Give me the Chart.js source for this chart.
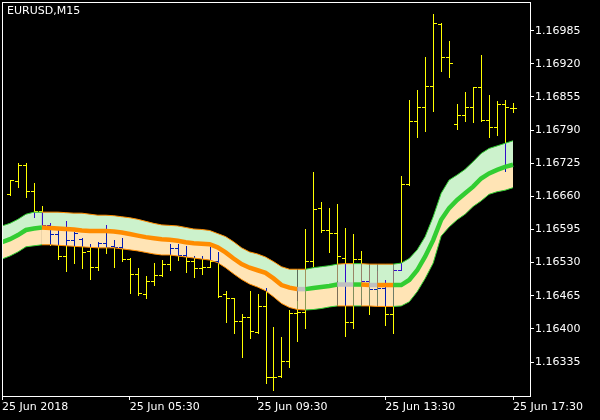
<!DOCTYPE html>
<html>
<head>
<meta charset="utf-8">
<script src="https://cdn.jsdelivr.net/npm/chart.js@4.4.1/dist/chart.umd.min.js"></script>
<style>
  html, body { margin: 0; padding: 0; background: #000; }
  #wrap { width: 600px; height: 420px; }
</style>
</head>
<body>
<div id="wrap"><canvas id="eurusdChart"></canvas></div>
<script>
// symbol / axis labels
const symbolTitle = 'EURUSD,M15';
const tickSlots = [0, 16, 32, 48, 64];
const tickLabels = ['25 Jun 2018', '25 Jun 05:30', '25 Jun 09:30', '25 Jun 13:30', '25 Jun 17:30'];
const priceTicks = [1.16335, 1.16400, 1.16465, 1.16530, 1.16595, 1.16660, 1.16725, 1.16790, 1.16855, 1.16920, 1.16985];

// M15 bars, slot 0 = 01:30 (hidden behind the frame)
const opens = [null,
  1.16665, 1.16691, 1.16721, 1.16670, 1.16632, 1.16604, 1.16586, 1.16542, 1.16574, 1.16576,
  1.16552, 1.16521, 1.16569, 1.16563, 1.16560, 1.16538, 1.16507, 1.16468, 1.16494, 1.16505,
  1.16527, 1.16558, 1.16545, 1.16534, 1.16519, 1.16522, 1.16533, 1.16468, 1.16460, 1.16415,
  1.16423, 1.16394, 1.16445, 1.16305, 1.16308, 1.16337, 1.16432, 1.16433, 1.16534, 1.16638,
  1.16593, 1.16588, 1.16540, 1.16413, 1.16537, 1.16493, 1.16478, 1.16480, 1.16429, 1.16516,
  1.16684, 1.16808, 1.16835, 1.16876, 1.16999, 1.16933, 1.16801, 1.16819, 1.16835, 1.16874,
  1.16810, 1.16797, 1.16841, 1.16834];
const highs = [null,
  1.16692, 1.16725, 1.16725, 1.16686, 1.16641, 1.16607, 1.16594, 1.16612, 1.16591, 1.16579,
  1.16567, 1.16570, 1.16604, 1.16574, 1.16578, 1.16539, 1.16519, 1.16504, 1.16529, 1.16535,
  1.16567, 1.16567, 1.16562, 1.16542, 1.16543, 1.16561, 1.16551, 1.16475, 1.16461, 1.16429,
  1.16475, 1.16468, 1.16481, 1.16404, 1.16385, 1.16437, 1.16455, 1.16596, 1.16707, 1.16649,
  1.16638, 1.16645, 1.16597, 1.16586, 1.16553, 1.16519, 1.16514, 1.16496, 1.16517, 1.16699,
  1.16849, 1.16869, 1.16933, 1.17018, 1.17001, 1.16965, 1.16841, 1.16865, 1.16874, 1.16937,
  1.16859, 1.16848, 1.16849, 1.16843];
const lows = [null,
  1.16663, 1.16679, 1.16659, 1.16620, 1.16601, 1.16565, 1.16538, 1.16514, 1.16530, 1.16519,
  1.16497, 1.16516, 1.16549, 1.16522, 1.16534, 1.16471, 1.16466, 1.16460, 1.16486, 1.16504,
  1.16515, 1.16535, 1.16512, 1.16501, 1.16508, 1.16521, 1.16463, 1.16414, 1.16391, 1.16345,
  1.16382, 1.16391, 1.16294, 1.16280, 1.16306, 1.16325, 1.16377, 1.16401, 1.16523, 1.16591,
  1.16551, 1.16495, 1.16386, 1.16401, 1.16460, 1.16429, 1.16453, 1.16408, 1.16391, 1.16515,
  1.16682, 1.16777, 1.16789, 1.16828, 1.16906, 1.16895, 1.16793, 1.16808, 1.16805, 1.16808,
  1.16777, 1.16780, 1.16710, 1.16826];
const closes = [null,
  1.16692, 1.16721, 1.16670, 1.16632, 1.16604, 1.16586, 1.16542, 1.16574, 1.16588, 1.16551,
  1.16521, 1.16569, 1.16561, 1.16561, 1.16538, 1.16507, 1.16470, 1.16494, 1.16505, 1.16527,
  1.16558, 1.16545, 1.16534, 1.16519, 1.16522, 1.16533, 1.16464, 1.16460, 1.16415, 1.16424,
  1.16396, 1.16444, 1.16305, 1.16306, 1.16337, 1.16432, 1.16433, 1.16534, 1.16635, 1.16593,
  1.16588, 1.16542, 1.16413, 1.16537, 1.16493, 1.16478, 1.16480, 1.16429, 1.16516, 1.16684,
  1.16808, 1.16835, 1.16876, 1.17001, 1.16933, 1.16921, 1.16819, 1.16835, 1.16874, 1.16810,
  1.16797, 1.16841, 1.16835, 1.16833];

// band indicator
const upperBand = [
  1.16602, 1.16607, 1.16615, 1.16625, 1.16629, 1.16629, 1.16629, 1.16629, 1.16628, 1.16627,
  1.16627, 1.16625, 1.16623, 1.16623, 1.16622, 1.16620, 1.16618, 1.16615, 1.16611, 1.16607,
  1.16604, 1.16603, 1.16602, 1.16599, 1.16596, 1.16595, 1.16593, 1.16587, 1.16581, 1.16571,
  1.16559, 1.16551, 1.16547, 1.16541, 1.16532, 1.16522, 1.16517, 1.16517, 1.16517, 1.16520,
  1.16522, 1.16524, 1.16527, 1.16528, 1.16528, 1.16528, 1.16527, 1.16527, 1.16527, 1.16527,
  1.16529, 1.16538, 1.16555, 1.16581, 1.16620, 1.16666, 1.16692, 1.16702, 1.16713, 1.16728,
  1.16744, 1.16754, 1.16759, 1.16764, 1.16769];
const middleBand = [
  1.16570, 1.16576, 1.16584, 1.16594, 1.16597, 1.16599, 1.16598, 1.16597, 1.16596, 1.16595,
  1.16593, 1.16592, 1.16592, 1.16592, 1.16591, 1.16589, 1.16586, 1.16583, 1.16580, 1.16578,
  1.16576, 1.16575, 1.16573, 1.16570, 1.16568, 1.16567, 1.16566, 1.16560, 1.16550, 1.16538,
  1.16527, 1.16520, 1.16515, 1.16510, 1.16499, 1.16486, 1.16481, 1.16478, 1.16478, 1.16480,
  1.16482, 1.16484, 1.16487, 1.16487, 1.16487, 1.16487, 1.16486, 1.16486, 1.16486, 1.16486,
  1.16486, 1.16496, 1.16515, 1.16542, 1.16574, 1.16614, 1.16637, 1.16653, 1.16666, 1.16679,
  1.16695, 1.16705, 1.16712, 1.16718, 1.16722];
const lowerBand = [
  1.16537, 1.16543, 1.16551, 1.16561, 1.16563, 1.16565, 1.16565, 1.16564, 1.16563, 1.16562,
  1.16561, 1.16560, 1.16559, 1.16559, 1.16559, 1.16557, 1.16555, 1.16553, 1.16550, 1.16547,
  1.16545, 1.16545, 1.16543, 1.16541, 1.16539, 1.16537, 1.16535, 1.16530, 1.16520, 1.16508,
  1.16497, 1.16488, 1.16482, 1.16475, 1.16463, 1.16450, 1.16442, 1.16438, 1.16437, 1.16438,
  1.16440, 1.16443, 1.16445, 1.16445, 1.16445, 1.16445, 1.16445, 1.16444, 1.16444, 1.16444,
  1.16445, 1.16453, 1.16473, 1.16499, 1.16529, 1.16582, 1.16600, 1.16614, 1.16625, 1.16640,
  1.16651, 1.16664, 1.16669, 1.16672, 1.16677];
// 1 = up (green), -1 = down (orange), 0 = flat (gray); colours the segment ending at that slot
const trend = [
  1, 1, 1, 1, 1, 1, -1, -1, -1, -1,
  -1, -1, -1, -1, -1, -1, -1, -1, -1, -1,
  -1, -1, -1, -1, -1, -1, -1, -1, -1, -1,
  -1, -1, -1, -1, -1, -1, -1, -1, 0, 1,
  1, 1, 1, 0, 0, 1, -1, 0, -1, -1,
  1, 1, 1, 1, 1, 1, 1, 1, 1, 1,
  1, 1, 1, 1, 1];

const GREEN = '#32CD32';
const ORANGE = '#FF8C00';
const GRAY = '#C0C0C0';
const YELLOW = '#FFFF00';

const toPoints = arr => arr.map((v, i) => ({ x: i, y: v }));
const middleColor = t => (t === 1 ? GREEN : t === -1 ? ORANGE : GRAY);
const edgeColor = t => (t === 1 ? GREEN : ORANGE);

// solid black backdrop so the 'difference' blend has something to work on
const backgroundPlugin = {
  id: 'black-bg',
  beforeDraw: function (chart) {
    const ctx = chart.ctx;
    ctx.save();
    ctx.fillStyle = '#000000';
    ctx.fillRect(0, 0, chart.width, chart.height);
    ctx.restore();
  }
};

// OHLC bars, drawn over the band fills with 'difference' so they turn blue inside the bands
const ohlcBarsPlugin = {
  id: 'ohlc-bars',
  beforeDatasetsDraw: function (chart) {
    const { ctx, chartArea, scales: { x, y } } = chart;
    ctx.save();
    ctx.beginPath();
    ctx.rect(chartArea.left, chartArea.top, chartArea.width, chartArea.height);
    ctx.clip();
    ctx.globalCompositeOperation = 'difference';
    ctx.fillStyle = YELLOW;
    opens.forEach(function (o, i) {
      if (o === null) return;
      const px = Math.round(x.getPixelForValue(i));
      const yH = Math.round(y.getPixelForValue(highs[i]));
      const yL = Math.round(y.getPixelForValue(lows[i]));
      const yO = Math.round(y.getPixelForValue(o));
      const yC = Math.round(y.getPixelForValue(closes[i]));
      ctx.fillRect(px, yH, 1, yL - yH + 1);
      ctx.fillRect(px - 3, yO, 3, 1); // open tick
      ctx.fillRect(px + 1, yC, 3, 1); // close tick
    });
    ctx.restore();
  }
};

// white frame + symbol caption
const framePlugin = {
  id: 'frame',
  afterDraw: function (chart) {
    const { ctx, chartArea: { left, top, width, height } } = chart;
    ctx.save();
    ctx.strokeStyle = '#FFFFFF';
    ctx.lineWidth = 1;
    ctx.strokeRect(left + 0.5, top + 0.5, width, height);
    ctx.fillStyle = '#FFFFFF';
    ctx.font = '11px "DejaVu Sans"';
    ctx.textAlign = 'left';
    ctx.textBaseline = 'top';
    ctx.fillText(symbolTitle, left + 5, top + 4);
    ctx.restore();
  }
};

const eurusdChart = new Chart(document.getElementById('eurusdChart'), {
  type: 'line',
  data: {
    datasets: [
      {
        data: toPoints(upperBand),
        borderWidth: 1,
        borderColor: GREEN,
        segment: { borderColor: c => edgeColor(trend[c.p1DataIndex]) },
        backgroundColor: '#CCF2CC',
        fill: '+1',
        pointRadius: 0,
      },
      {
        data: toPoints(middleBand),
        borderWidth: 4.5,
        borderColor: GREEN,
        segment: { borderColor: c => middleColor(trend[c.p1DataIndex]) },
        backgroundColor: '#FFE4B5',
        fill: '+1',
        pointRadius: 0,
      },
      {
        data: toPoints(lowerBand),
        borderWidth: 1,
        borderColor: GREEN,
        segment: { borderColor: c => edgeColor(trend[c.p1DataIndex]) },
        fill: false,
        pointRadius: 0,
      },
    ],
  },
  options: {
    responsive: true,
    maintainAspectRatio: false,
    animation: false,
    events: [],
    layout: { padding: { left: 2, top: 2, right: 0, bottom: 0 } },
    scales: {
      x: {
        type: 'linear',
        min: 0,
        max: 66.125,
        afterBuildTicks: s => { s.ticks = tickSlots.map(v => ({ value: v })); },
        afterFit: s => { s.height = 24; s.paddingLeft = 0; s.paddingRight = 0; },
        grid: { display: true, drawOnChartArea: false, drawTicks: true, tickLength: 4, color: '#FFFFFF' },
        border: { display: false },
        ticks: {
          color: '#FFFFFF',
          font: { family: 'DejaVu Sans', size: 11 },
          align: 'start',
          padding: 1,
          maxRotation: 0,
          autoSkip: false,
          callback: (v, i) => tickLabels[i],
        },
      },
      y: {
        position: 'right',
        min: 1.162683,
        max: 1.170413,
        afterBuildTicks: s => { s.ticks = priceTicks.map(v => ({ value: v })); },
        afterFit: s => { s.width = 70; s.paddingTop = 0; s.paddingBottom = 0; },
        grid: { display: true, drawOnChartArea: false, drawTicks: true, tickLength: 4, color: '#FFFFFF' },
        border: { display: false },
        ticks: {
          color: '#FFFFFF',
          font: { family: 'DejaVu Sans', size: 11 },
          padding: 1,
          autoSkip: false,
          callback: v => v.toFixed(5),
        },
      },
    },
    plugins: {
      legend: { display: false },
      tooltip: { enabled: false },
      filler: { drawTime: 'beforeDatasetsDraw' },
    },
  },
  plugins: [backgroundPlugin, ohlcBarsPlugin, framePlugin],
});
</script>
</body>
</html>
